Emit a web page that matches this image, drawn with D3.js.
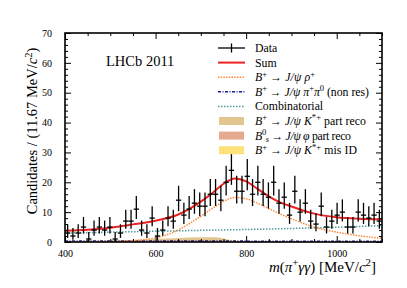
<!DOCTYPE html>
<html><head><meta charset="utf-8">
<script src="https://cdn.jsdelivr.net/npm/d3@7"></script>
<style>body{margin:0;background:#fff}</style>
</head><body><svg id="c" width="407" height="288"></svg>
<script>
// ---- data ----
const binLo = 400, binHi = 1100, nBins = 60;
const counts = [3,2,3,5,1,4,5,4,5,1,3,7,7,11,4,3,8,2,4,8,7,14,9,11,13,12,12,16,16,
                14,20,24,17,17,22,16,20,16,15,20,13,15,9,17,10,13,7,6,12,5,7,9,10,5,5,10,9,8,9,7];
const sumMass = [400,450,500,550,600,650,700,725,750,775,800,825,850,875,900,950,1000,1050,1100];
const sumVal  = [3.8,4.1,4.8,5.9,7.1,9.2,13.5,16.3,19.5,21.3,20.3,17.8,15.3,13.3,11.9,9.5,8.3,7.8,7.6];
const rhoMass = [400,500,550,575,600,625,650,675,700,725,750,775,800,825,850,875,900,925,950,1000,1050,1100];
const rhoVal  = [0,0.1,0.4,0.8,1.4,2.4,4.0,6.2,8.6,11.2,13.6,14.9,14.5,13.0,11.2,9.4,7.8,6.3,5.0,3.3,2.1,1.2];
const combMass = [400,550,700,850,1000,1100];
const combVal  = [3.0,3.45,3.9,4.35,4.95,5.5];
const nonresMass = [400,750,1100];
const nonresVal  = [0.35,0.3,0.25];
const partMass = [400,450,500,550,600,650,700,730,750,770,790,820,860];
const partVal  = [0.3,0.4,0.5,0.7,1.0,1.3,1.6,1.6,1.2,0.5,0.2,0.1,0];
const bsMass = [400,500,600,700,800,900];
const bsVal  = [0.1,0.3,0.5,0.5,0.2,0];
const misMass = [700,800,900,1000,1100];
const misVal  = [0,0.15,0.2,0.15,0.1];
const xMajor = [400,600,800,1000];
const yMajor = [0,10,20,30,40,50,60,70];

// ---- layout ----
const svg = d3.select('#c');
const L = 65, R = 382, T = 33, B = 242;
const x = d3.scaleLinear([binLo, binHi], [L, R]);
const y = d3.scaleLinear([0, 70], [B, T]);
const FONT = "'Liberation Serif', 'DejaVu Serif', serif";

svg.append('clipPath').attr('id','clp').append('rect')
  .attr('x',L).attr('y',T).attr('width',R-L).attr('height',B-T);
const plot = svg.append('g').attr('clip-path','url(#clp)');

const pts = (ms, vs) => ms.map((m,i)=>[m, vs[i]]);
const area = d3.area().x(d=>x(d[0])).y0(y(0)).y1(d=>y(d[1])).curve(d3.curveMonotoneX);
const line = d3.line().x(d=>x(d[0])).y(d=>y(d[1])).curve(d3.curveMonotoneX);

const cPart = '#e2c68f', cBs = '#e5a98f', cMis = '#fde27a';
plot.append('path').attr('d', area(pts(partMass, partVal))).attr('fill', cPart);
plot.append('path').attr('d', area(pts(bsMass, bsVal))).attr('fill', cBs).attr('opacity',0.9);
plot.append('path').attr('d', area(pts(misMass, misVal))).attr('fill', cMis);

const styles = {
  comb:   {c:'#4f9c9c', w:1.5, d:'1.5,1.5'},
  nonres: {c:'#1c1c8c', w:1.5, d:'3,1.5,1,1.5'},
  rho:    {c:'#ff8a3d', w:1.5, d:'1.5,1.2'},
  sum:    {c:'#ee2222', w:2, d:null}
};
const drawLine = (ms, vs, s) => plot.append('path').attr('d', line(pts(ms, vs)))
  .attr('fill','none').attr('stroke', s.c).attr('stroke-width', s.w)
  .attr('stroke-dasharray', s.d);
drawLine(combMass, combVal, styles.comb);
drawLine(nonresMass, nonresVal, styles.nonres);
drawLine(rhoMass, rhoVal, styles.rho);
drawLine(sumMass, sumVal, styles.sum);

// data points with Poisson (Gehrels) errors
const bw = (binHi - binLo) / nBins;
const dg = svg.append('g').attr('stroke','#000').attr('stroke-width',1.3);
counts.forEach((n, i) => {
  const xc = binLo + bw * (i + 0.5);
  const lo = n > 0 ? n * Math.pow(1 - 1/(9*n) - 1/(3*Math.sqrt(n)), 3) : 0;
  const hi = n + Math.sqrt(n + 0.75) + 1;
  dg.append('line').attr('x1', x(xc)).attr('x2', x(xc)).attr('y1', y(lo)).attr('y2', Math.max(T, y(hi)));
  dg.append('line').attr('x1', x(xc - bw/2)).attr('x2', x(xc + bw/2)).attr('y1', y(n)).attr('y2', y(n));
});

// ---- axes ----
const ax = svg.append('g').attr('font-family', FONT);
const xMinor = d3.range(400, 1101, 50).filter(v => !xMajor.includes(v));
const yMinor = d3.range(0, 71, 2).filter(v => !yMajor.includes(v));
function ticks(g, axis){ g.call(axis); g.select('.domain').remove(); g.selectAll('line').attr('stroke','#000').attr('stroke-width',1); }
ticks(ax.append('g').attr('transform',`translate(0,${B})`), d3.axisBottom(x).tickValues(xMajor).tickSize(-6).tickPadding(8).tickFormat(d3.format('d')));
ticks(ax.append('g').attr('transform',`translate(0,${B})`), d3.axisBottom(x).tickValues(xMinor).tickSize(-3).tickFormat(''));
ticks(ax.append('g').attr('transform',`translate(0,${T})`), d3.axisTop(x).tickValues(xMajor).tickSize(-6).tickFormat(''));
ticks(ax.append('g').attr('transform',`translate(0,${T})`), d3.axisTop(x).tickValues(xMinor).tickSize(-3).tickFormat(''));
ticks(ax.append('g').attr('transform',`translate(${L},0)`), d3.axisLeft(y).tickValues(yMajor).tickSize(-6).tickPadding(13).tickFormat(d3.format('d')));
ticks(ax.append('g').attr('transform',`translate(${L},0)`), d3.axisLeft(y).tickValues(yMinor).tickSize(-3).tickFormat(''));
ticks(ax.append('g').attr('transform',`translate(${R},0)`), d3.axisRight(y).tickValues(yMajor).tickSize(-6).tickFormat(''));
ticks(ax.append('g').attr('transform',`translate(${R},0)`), d3.axisRight(y).tickValues(yMinor).tickSize(-3).tickFormat(''));
ax.selectAll('text').attr('font-family', FONT).attr('font-size', 10).attr('fill','#000');

svg.append('rect').attr('x',L).attr('y',T).attr('width',R-L).attr('height',B-T)
  .attr('fill','none').attr('stroke','#000').attr('stroke-width',1.6);

// ---- rich text helper ----
function rich(parent, px, py, segs, size, anchor, len){
  const t = parent.append('text').attr('x',px).attr('y',py).attr('font-family',FONT)
    .attr('font-size',size).attr('text-anchor',anchor||'start').attr('fill','#000');
  let off = 0;
  segs.forEach(s => {
    const target = s.sup ? -size*0.38 : s.sub ? size*0.22 : 0;
    const ts = t.append('tspan').text(s.t).attr('dy', target - off);
    off = target;
    if (s.i) ts.attr('font-style','italic');
    if (s.sup || s.sub) ts.attr('font-size', size*0.72);
  });
  if (len) t.attr('textLength', len).attr('lengthAdjust','spacing');
  return t;
}

// title
svg.append('text').attr('x',106).attr('y',66).attr('font-family',FONT).attr('font-size',14.5)
  .text('LHCb 2011');

// axis labels
rich(svg.append('g').attr('transform','translate(37,131) rotate(-90)'), 0, 0,
  [{t:'Candidates / (11.67 MeV/'},{t:'c',i:1},{t:'2',sup:1},{t:')'}], 14.5, 'middle');
rich(svg, 376, 272, [{t:'m',i:1},{t:'('},{t:'π',i:1},{t:'+',sup:1},{t:'γγ',i:1},{t:')  [MeV/'},{t:'c',i:1},{t:'2',sup:1},{t:']'}], 15, 'end');

// ---- legend ----
const lg = svg.append('g');
const LX0 = 218, LX1 = 245, TX = 255, LY0 = 48, DY = 14.6;
const legend = [
  {type:'data', segs:[{t:'Data'}]},
  {type:'line', s:styles.sum, segs:[{t:'Sum'}]},
  {type:'line', s:styles.rho, len:60, segs:[{t:'B',i:1},{t:'+',sup:1},{t:' → '},{t:'J/ψ ρ',i:1},{t:'+',sup:1}]},
  {type:'line', s:styles.nonres, len:114, segs:[{t:'B',i:1},{t:'+',sup:1},{t:' → '},{t:'J/ψ π',i:1},{t:'+',sup:1},{t:'π',i:1},{t:'0',sup:1},{t:' (non res)'}]},
  {type:'line', s:styles.comb, segs:[{t:'Combinatorial'}]},
  {type:'box', c:cPart, len:111, segs:[{t:'B',i:1},{t:'+',sup:1},{t:' → '},{t:'J/ψ K',i:1},{t:'*+',sup:1},{t:' part reco'}]},
  {type:'box', c:cBs, len:96, segs:[{t:'B',i:1},{t:'0',sup:1},{t:'s',sub:1,i:1},{t:' → '},{t:'J/ψ φ',i:1},{t:' part reco'}]},
  {type:'box', c:cMis, len:102, segs:[{t:'B',i:1},{t:'+',sup:1},{t:' → '},{t:'J/ψ K',i:1},{t:'*+',sup:1},{t:' mis ID'}]}
];
legend.forEach((e, i) => {
  const yy = LY0 + DY * i;
  if (e.type === 'data') {
    lg.append('line').attr('x1',LX0).attr('x2',LX1).attr('y1',yy).attr('y2',yy).attr('stroke','#000').attr('stroke-width',1.3);
    lg.append('line').attr('x1',(LX0+LX1)/2).attr('x2',(LX0+LX1)/2).attr('y1',yy-4.5).attr('y2',yy+4.5).attr('stroke','#000').attr('stroke-width',1.3);
  } else if (e.type === 'line') {
    lg.append('line').attr('x1',LX0).attr('x2',LX1).attr('y1',yy).attr('y2',yy)
      .attr('stroke',e.s.c).attr('stroke-width',e.s.w).attr('stroke-dasharray',e.s.d);
  } else {
    lg.append('rect').attr('x',LX0+1).attr('y',yy-4).attr('width',LX1-LX0-2).attr('height',8).attr('fill',e.c);
  }
  rich(lg, TX, yy + 3.9, e.segs, 11.8, 'start', e.len);
});
</script></body></html>
